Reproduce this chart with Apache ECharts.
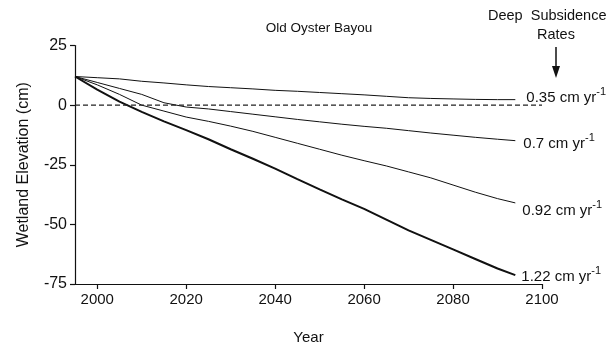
<!DOCTYPE html>
<html>
<head>
<meta charset="utf-8">
<script src="https://cdn.jsdelivr.net/npm/echarts@6/dist/echarts.min.js"></script>
<style>html,body{margin:0;padding:0;background:#fff}#c{width:615px;height:348px}</style>
</head>
<body>
<div id="c"></div>
<script>
const years = [1995,2000,2005,2010,2015,2020,2025,2030,2035,2040,2045,2050,2055,2060,2065,2070,2075,2080,2085,2090,2094];
const rate035 = [12,11.5,11,10,9.3,8.5,7.8,7.3,6.8,6.2,5.8,5.3,4.8,4.3,3.7,3.1,2.8,2.6,2.4,2.3,2.3];
const rate070 = [12,9.5,7,4.5,1,-0.8,-1.6,-2.7,-3.8,-4.9,-6,-7,-8,-8.9,-9.7,-10.7,-11.7,-12.6,-13.5,-14.3,-14.9];
const rate092 = [12,8.5,4.5,0,-2.5,-5,-6.8,-8.8,-11,-13.5,-16,-18.5,-21,-23.3,-25.5,-28,-30.5,-33.5,-36.5,-39.2,-41];
const rate122 = [12,6.5,1.5,-2.8,-6.8,-10.5,-14.3,-18.5,-22.5,-26.6,-31,-35.3,-39.5,-43.5,-48,-52.5,-56.5,-60.5,-64.5,-68.5,-71.3];
const rateNames = ['0.35','0.7','0.92','1.22'];
const xTicks = [2000,2020,2040,2060,2080,2100];
const yTicks = [-75,-50,-25,0,25];
const refLine = [[1995,0],[2100,0]];

const FONT = 'Liberation Sans, Arial, sans-serif';
const allRates = [rate035, rate070, rate092, rate122];
const widths = [1, 1, 1, 2];
const offsets = [[11,-4],[8,1],[7,6],[6,0]];

const chart = echarts.init(document.getElementById('c'), null, {renderer:'canvas'});
const series = allRates.map((vals, k) => ({
  type: 'line',
  name: rateNames[k] + ' cm yr-1',
  data: years.map((y, i) => [y, vals[i]]),
  showSymbol: false,
  symbol: 'none',
  silent: true,
  animation: false,
  lineStyle: {color: '#111', width: widths[k]},
  endLabel: {
    show: true,
    distance: 0,
    offset: offsets[k],
    formatter: () => '{a|' + rateNames[k] + ' cm yr}{s|-1}',
    rich: {
      a: {fontFamily: FONT, fontSize: 15, color: '#111', lineHeight: 19, verticalAlign: 'bottom'},
      s: {fontFamily: FONT, fontSize: 11, color: '#111', lineHeight: 19, verticalAlign: 'top'}
    }
  }
}));
series.push({
  type: 'line',
  data: refLine,
  showSymbol: false,
  symbol: 'none',
  silent: true,
  animation: false,
  lineStyle: {color: '#222', width: 1.2, type: [5, 3]}
});

chart.setOption({
  animation: false,
  backgroundColor: '#fff',
  title: {
    text: 'Old Oyster Bayou',
    left: 314, top: 16,
    textAlign: 'center',
    textStyle: {fontFamily: FONT, fontSize: 13.5, fontWeight: 'normal', color: '#111'}
  },
  grid: {left: 75, right: 73, top: 45.5, bottom: 64, containLabel: false, outerBoundsMode: 'none'},
  xAxis: {
    type: 'value', min: 1995, max: 2100,
    name: 'Year', nameLocation: 'middle', nameGap: 46,
    nameTextStyle: {fontFamily: FONT, fontSize: 15, color: '#111'},
    axisLine: {show: true, onZero: false, lineStyle: {color: '#111', width: 1.2}},
    axisTick: {show: true, length: 5, customValues: xTicks, lineStyle: {color: '#111', width: 1.2}},
    axisLabel: {customValues: xTicks, formatter: v => String(v), fontFamily: FONT, fontSize: 15, color: '#111', margin: 8},
    splitLine: {show: false}
  },
  yAxis: {
    type: 'value', min: -75, max: 25, interval: 25,
    name: 'Wetland Elevation (cm)', nameLocation: 'middle', nameGap: 43, nameRotate: 90,
    nameTextStyle: {fontFamily: FONT, fontSize: 16, color: '#111'},
    axisLine: {show: true, onZero: false, lineStyle: {color: '#111', width: 1.2}},
    axisTick: {show: true, length: 5, lineStyle: {color: '#111', width: 1.2}},
    axisLabel: {formatter: v => String(v), fontFamily: FONT, fontSize: 16, color: '#111', margin: 8},
    splitLine: {show: false}
  },
  graphic: [
    {type: 'text', left: 488, top: 8, style: {text: 'Deep  Subsidence', font: '14.5px ' + FONT, fill: '#111'}},
    {type: 'text', left: 537, top: 27, style: {text: 'Rates', font: '14.5px ' + FONT, fill: '#111'}},
    {type: 'line', shape: {x1: 556, y1: 47, x2: 556, y2: 72}, style: {stroke: '#111', lineWidth: 1.5}},
    {type: 'polygon', shape: {points: [[552, 66], [560, 66], [556, 78]]}, style: {fill: '#111'}}
  ],
  series: series
});
</script>
</body>
</html>
